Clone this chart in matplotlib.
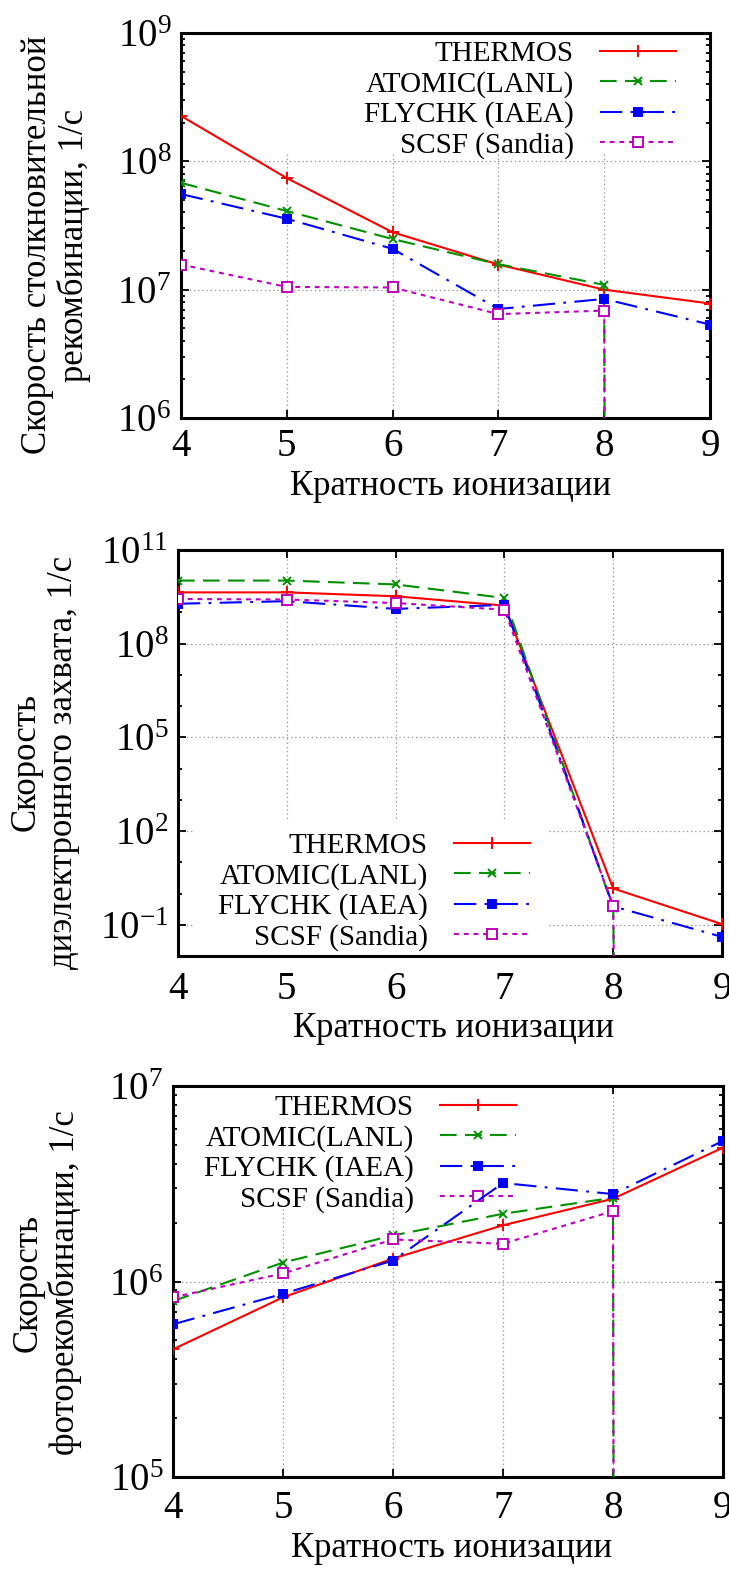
import numpy as np
import matplotlib
matplotlib.use('Agg')
import matplotlib.pyplot as plt
from matplotlib import ticker
from matplotlib.patches import Rectangle

plt.rcParams['font.family'] = ['Liberation Serif', 'DejaVu Serif']
plt.rcParams['mathtext.fontset'] = 'custom'
plt.rcParams['mathtext.rm'] = 'Liberation Serif'
plt.rcParams['mathtext.default'] = 'regular'
plt.rcParams['lines.scale_dashes'] = False

# ionization degree
x_ion = [4, 5, 6, 7, 8, 9]
names = ['THERMOS', 'ATOMIC(LANL)', 'FLYCHK (IAEA)', 'SCSF (Sandia)']
ZERO = 1e-300  # model gives no value -> line drops off the plot

# collisional recombination rate, 1/s
coll_thermos = [2.26e8, 7.4e7, 2.8e7, 1.57e7, 1.0e7, 7.8e6]
coll_atomic = [6.8e7, 4.1e7, 2.48e7, 1.58e7, 1.09e7, ZERO]
coll_flychk = [5.56e7, 3.57e7, 2.08e7, 7.07e6, 8.47e6, 5.35e6]
coll_scsf = [1.57e7, 1.05e7, 1.04e7, 6.45e6, 6.87e6, ZERO]

# dielectronic capture rate, 1/s
dc_thermos = [4.4e9, 4.4e9, 3.3e9, 1.66e9, 1.45, 0.105]
dc_atomic = [1.05e10, 1.05e10, 7.9e9, 2.9e9, 0.35, ZERO]
dc_flychk = [1.9e9, 2.3e9, 1.3e9, 1.75e9, 0.39, 0.041]
dc_scsf = [2.7e9, 2.6e9, 2.0e9, 1.23e9, 0.39, ZERO]

# photorecombination rate, 1/s
ph_thermos = [4.5e5, 8.3e5, 1.31e6, 1.94e6, 2.65e6, 4.84e6]
ph_atomic = [7.94e5, 1.25e6, 1.72e6, 2.22e6, 2.68e6, ZERO]
ph_flychk = [6.04e5, 8.65e5, 1.28e6, 3.19e6, 2.8e6, 5.24e6]
ph_scsf = [8.3e5, 1.1e6, 1.64e6, 1.56e6, 2.29e6, ZERO]

colors = ['#ff0000', '#009000', '#0000ff', '#c000c0']
styles = ['-', (0, (12, 6)), (0, (16, 6, 2, 6)), (0, (3.5, 3.5))]
markers = ['+', 'x', 's', 's']
msizes = [8, 6, 6, 7]
mfcs = ['#ff0000', '#009000', '#0000ff', 'white']

W, H = 729, 1570
fig = plt.figure(figsize=(W / 100, H / 100), dpi=100)


def px_axes(l, r, t, b):
    return fig.add_axes([l / W, 1 - b / H, (r - l) / W, (b - t) / H])


def panel(ax, series, ylim, major, minor, legend_anchor, white_box, ylabel, ylab_pos, xlab_pos, xpad):
    for k, y in enumerate(series):
        ax.plot(x_ion, y, color=colors[k], linestyle=styles[k], lw=1.5,
                marker=markers[k], ms=msizes[k], mew=1.4, mfc=mfcs[k],
                label=names[k], zorder=3)
    ax.set_yscale('log')
    ax.set_xlim(4, 9)
    ax.set_ylim(*ylim)
    ax.set_xticks(x_ion)
    ax.yaxis.set_major_locator(ticker.FixedLocator(major))
    ax.yaxis.set_minor_locator(ticker.FixedLocator(minor))
    ax.yaxis.set_major_formatter(ticker.FuncFormatter(
        lambda v, p: r'$\mathdefault{10^{%d}}$' % int(round(np.log10(v)))))
    ax.yaxis.set_minor_formatter(ticker.NullFormatter())
    ax.tick_params(which='both', direction='in', top=True, right=True, width=1.3)
    ax.tick_params(which='major', length=6, labelsize=28, pad=7)
    ax.tick_params(axis='x', which='major', pad=xpad)
    ax.tick_params(which='minor', length=3)
    ax.grid(True, which='major', linestyle=(0, (1, 2)), color='#999999', lw=0.9)
    ax.set_axisbelow(True)
    for s in ax.spines.values():
        s.set_linewidth(2.2)
    # opaque key area hides the grid, not the curves
    ax.add_patch(Rectangle((white_box[0], white_box[1]), white_box[2], white_box[3],
                           transform=ax.transAxes, facecolor='white',
                           edgecolor='none', zorder=1))
    leg = ax.legend(loc='upper right', bbox_to_anchor=(legend_anchor[0] / W, 1 - legend_anchor[1] / H),
                    bbox_transform=fig.transFigure, frameon=False, markerfirst=False,
                    fontsize=21, handlelength=2.6, handletextpad=0.9, labelspacing=0.12,
                    borderpad=0, borderaxespad=0, numpoints=1)
    leg.set_zorder(2)
    fig.text(ylab_pos[0] / W, 1 - ylab_pos[1] / H, ylabel, rotation=90, ha='center',
             va='center', multialignment='center', fontsize=25, linespacing=1.15)
    fig.text(xlab_pos[0] / W, 1 - xlab_pos[1] / H, 'Кратность ионизации', ha='center',
             va='baseline', fontsize=25)


ax1 = px_axes(181, 710, 33, 418)
panel(ax1, [coll_thermos, coll_atomic, coll_flychk, coll_scsf],
      (1e6, 1e9), [1e6, 1e7, 1e8, 1e9],
      [m * 10.0 ** e for e in range(6, 9) for m in range(2, 10)],
      (676, 41), (0.15, 0.688, 0.84, 0.312),
      'Скорость столкновительной\nрекомбинации, 1/с', (56, 245), (451, 495), 7)

ax2 = px_axes(178, 722, 550, 956)
panel(ax2, [dc_thermos, dc_atomic, dc_flychk, dc_scsf],
      (1e-2, 1e11), [1e-1, 1e2, 1e5, 1e8, 1e11],
      [10.0 ** e for e in range(-2, 12)],
      (530, 833), (0.03, 0.0, 0.65, 0.335),
      'Скорость\nдиэлектронного захвата, 1/с', (45, 762), (454, 1037), 11)

ax3 = px_axes(173, 723, 1086, 1477)
panel(ax3, [ph_thermos, ph_atomic, ph_flychk, ph_scsf],
      (1e5, 1e7), [1e5, 1e6, 1e7],
      [m * 10.0 ** e for e in range(5, 7) for m in range(2, 10)],
      (516, 1095), (0.1, 0.688, 0.54, 0.312),
      'Скорость\nфоторекомбинации, 1/с', (47, 1283), (452, 1557), 9)

fig.savefig('out.png', dpi=100)
